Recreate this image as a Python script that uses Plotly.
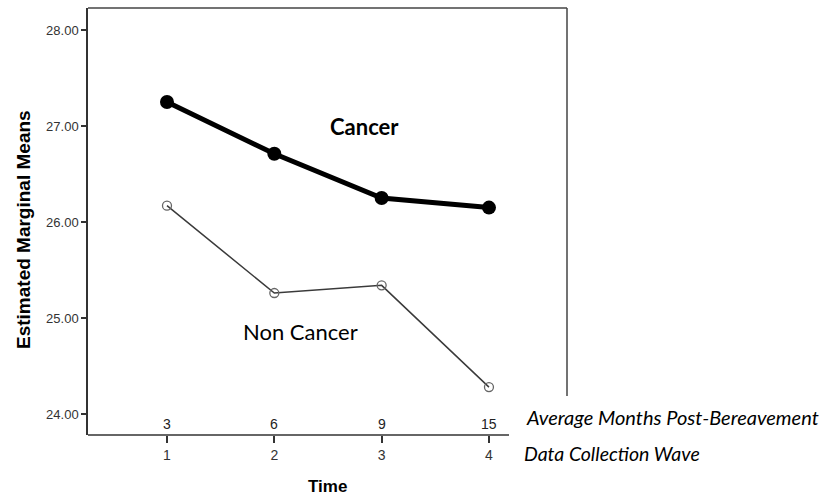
import plotly.graph_objects as go

waves = [1, 2, 3, 4]
wave_labels = ["1", "2", "3", "4"]
months = ["3", "6", "9", "15"]
cancer = [27.25, 26.71, 26.25, 26.15]
non_cancer = [26.17, 25.26, 25.34, 24.28]
y_ticks = [24, 25, 26, 27, 28]

fig = go.Figure()
fig.add_trace(go.Scatter(x=waves, y=non_cancer, mode="lines+markers",
                         line=dict(color="#3a3a3a", width=1.5),
                         marker=dict(symbol="circle-open", size=9, color="#666666",
                                     line=dict(width=1.3)),
                         showlegend=False))
fig.add_trace(go.Scatter(x=waves, y=cancer, mode="lines+markers",
                         line=dict(color="#000000", width=5),
                         marker=dict(symbol="circle", size=14, color="#000000"),
                         showlegend=False))

for w, m in zip(waves, months):
    fig.add_annotation(x=w, y=0, xref="x", yref="paper", text=m, showarrow=False,
                       yanchor="bottom", yshift=1,
                       font=dict(family="Liberation Sans, Arial", size=14, color="#222"))

# text labels in paper coords
W, H = 821, 502
L, R, T, B = 88, 567, 8, 435
def px(x): return (x - L) / (R - L)
def py(y): return (B - y) / (B - T)

def label(x, y, text, size, family="Lato, Open Sans", xanchor="center", angle=0):
    fig.add_annotation(x=px(x), y=py(y), xref="paper", yref="paper", text=text,
                       xanchor=xanchor, yanchor="middle", textangle=angle,
                       showarrow=False, font=dict(family=family, size=size, color="#000"))

label(364, 127, "<b>Cancer</b>", 22)
label(300, 331, "Non Cancer", 22)
label(524, 417, "<i>Average Months Post-Bereavement</i>", 20, xanchor="left")
label(522, 453, "<i>Data Collection Wave</i>", 19.5, xanchor="left")
label(327, 487, "<b>Time</b>", 17, family="Liberation Sans, Arial")
label(23, 230, "<b>Estimated Marginal Means</b>", 19, family="Liberation Sans, Arial", angle=-90)

fig.add_shape(type="line", xref="paper", yref="paper", x0=0, x1=1, y0=1, y1=1,
              line=dict(color="#444", width=1.5))
fig.add_shape(type="line", xref="paper", yref="paper", x0=1, x1=1, y0=py(396), y1=1,
              line=dict(color="#444", width=1.5))
fig.add_shape(type="line", xref="paper", yref="paper", x0=0, x1=px(509), y0=0, y1=0,
              line=dict(color="#333", width=1.5))

fig.update_layout(
    width=W, height=H,
    margin=dict(l=L, r=W - R, t=T, b=H - B),
    plot_bgcolor="white", paper_bgcolor="white",
    xaxis=dict(range=[0.264, 4.727], tickvals=waves, ticktext=wave_labels,
               showgrid=False, zeroline=False, showline=False,
               ticks="outside", ticklen=7, tickwidth=1.5, tickcolor="#333",
               tickfont=dict(family="Liberation Sans, Arial", size=14, color="#333")),
    yaxis=dict(range=[23.781, 28.229], tickvals=y_ticks,
               ticktext=[f"{v:.2f}" for v in y_ticks],
               showgrid=False, zeroline=False, showline=True, linecolor="#333", linewidth=1.5,
               ticks="outside", ticklen=5, tickwidth=1.5, tickcolor="#333",
               tickfont=dict(family="Liberation Sans, Arial", size=13, color="#333")),
)

fig.write_html("out.html")
